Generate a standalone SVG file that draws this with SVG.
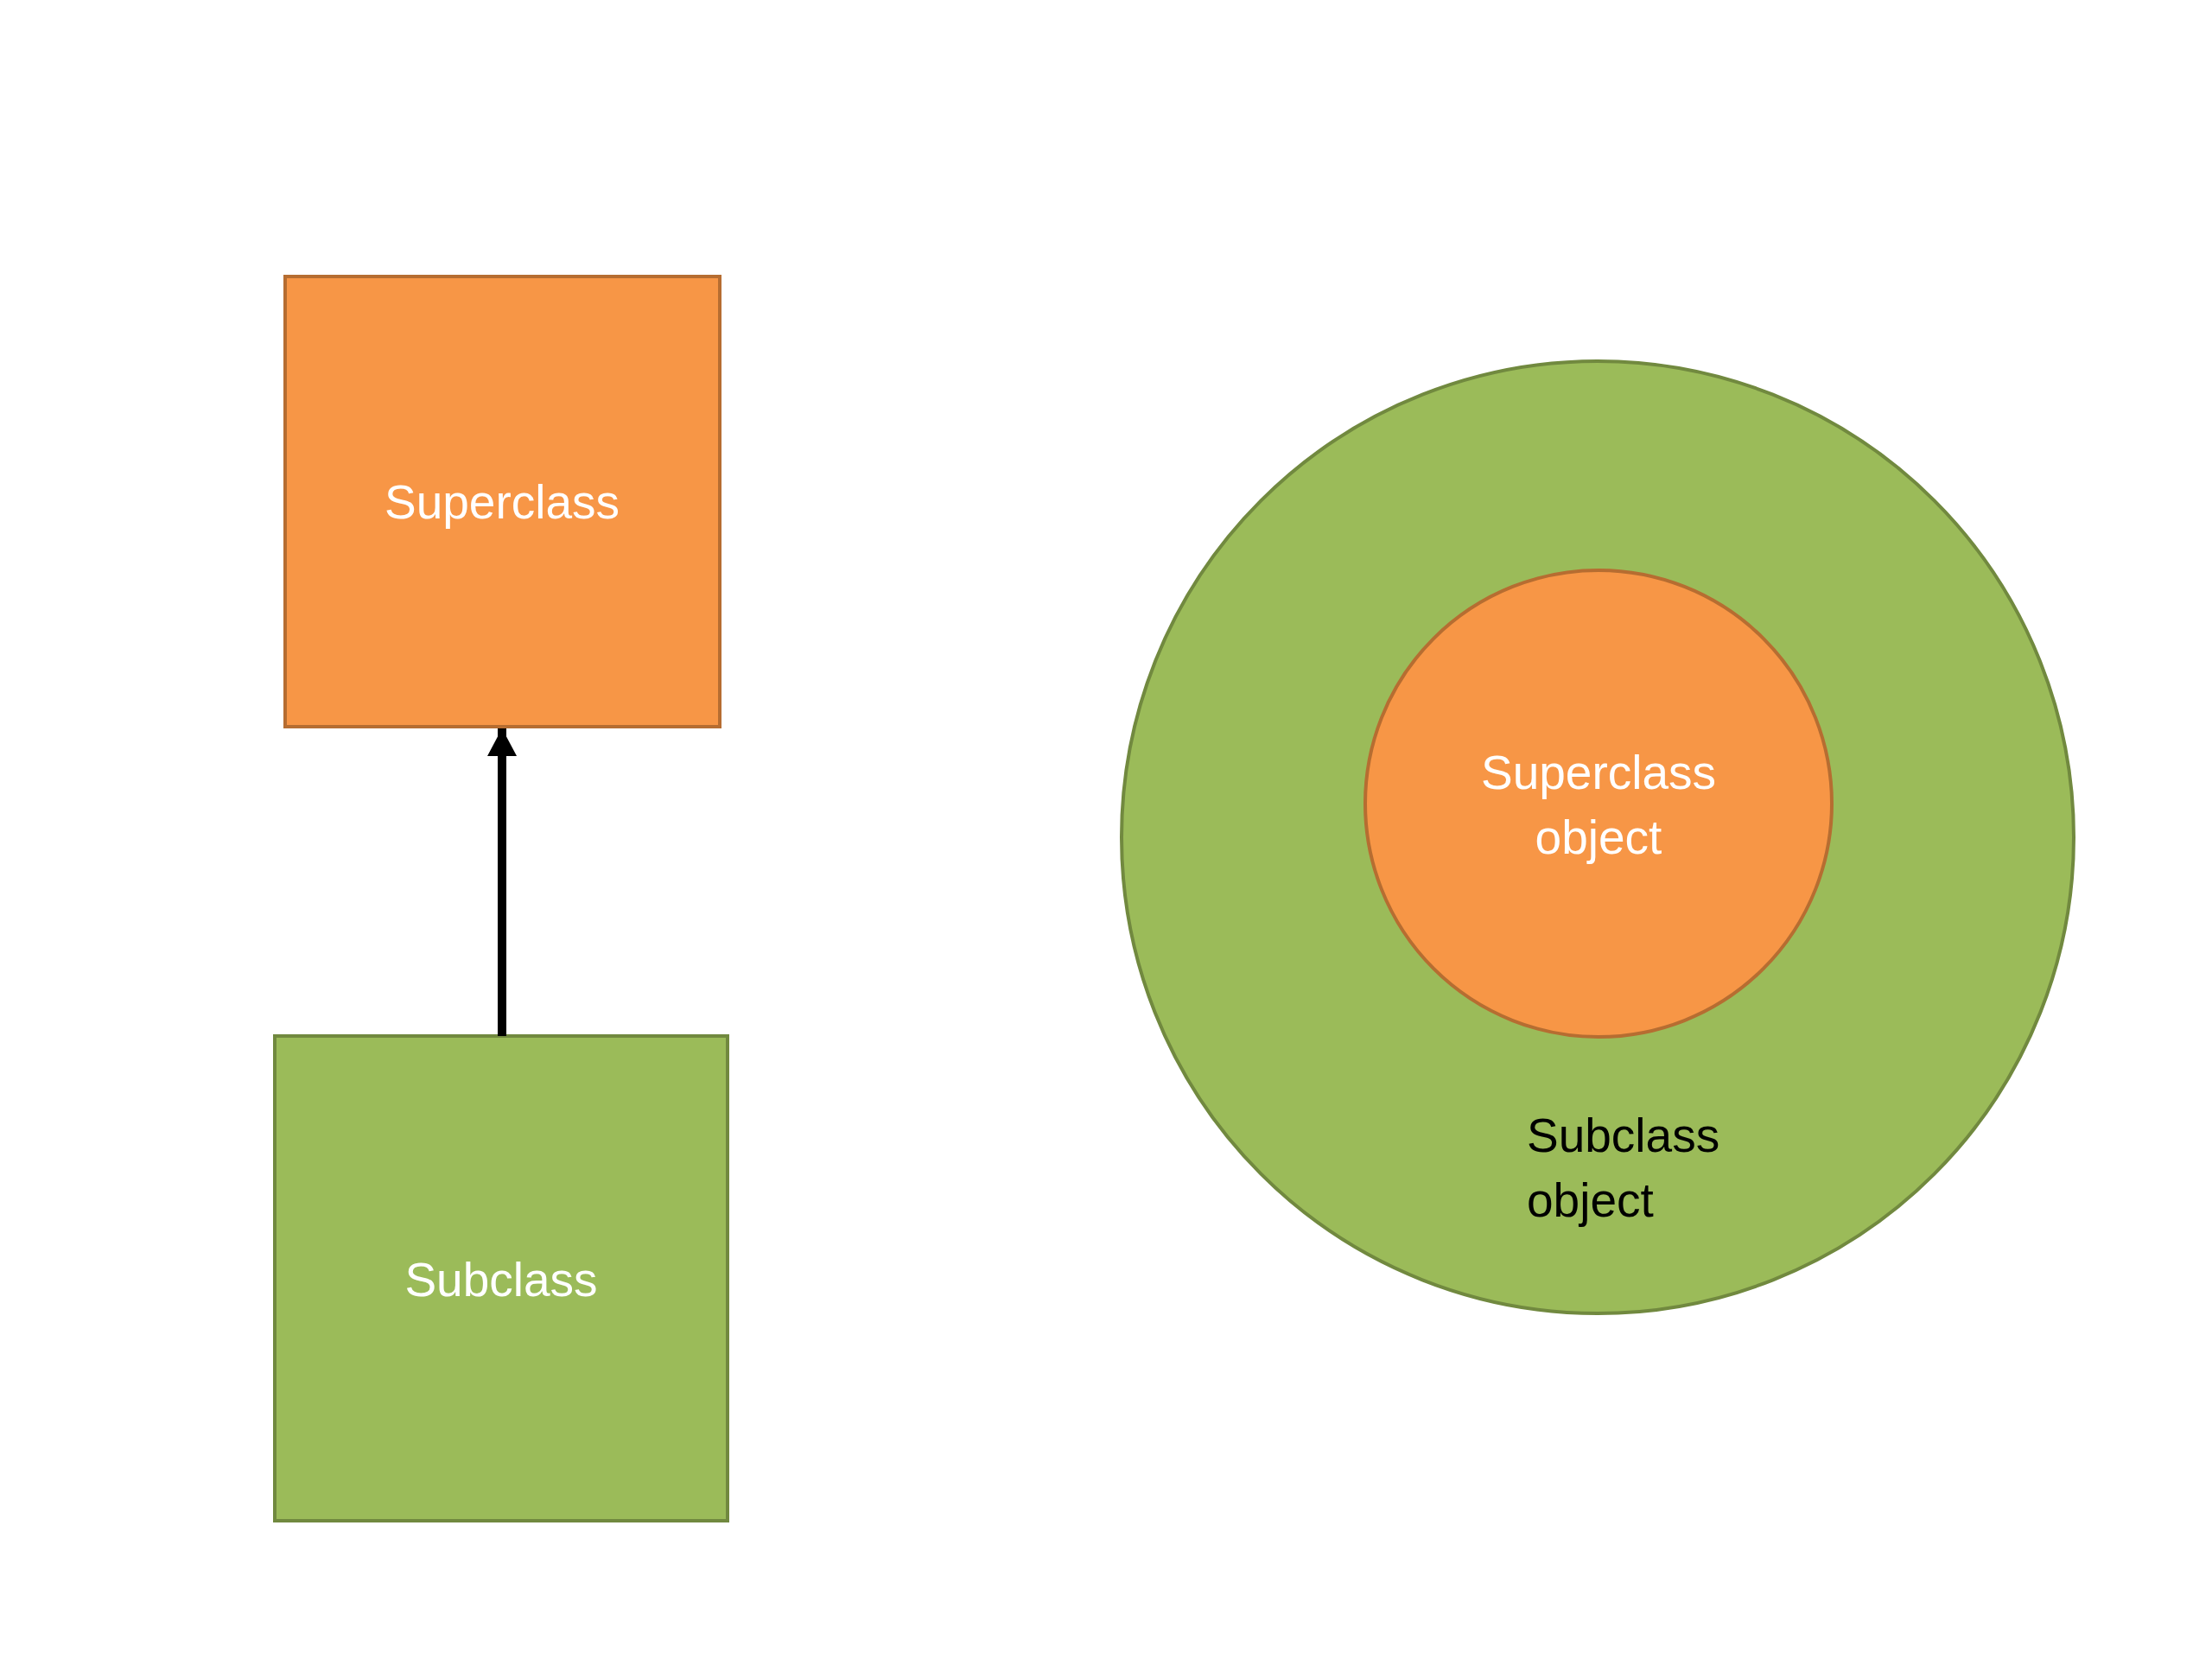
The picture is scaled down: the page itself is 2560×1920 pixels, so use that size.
<svg xmlns="http://www.w3.org/2000/svg" width="2560" height="1920" viewBox="0 0 2560 1920">
<style>
.orange{fill:#F79646;stroke:#B66D31;stroke-width:4}
.green{fill:#9BBB59;stroke:#71893F;stroke-width:4}
.lbl{font-family:"Liberation Sans",Arial,sans-serif;font-size:55px}
.w{fill:#FFFFFF;text-anchor:middle}
.k{fill:#000000}
</style>
<defs>
<marker id="ah" markerWidth="34" markerHeight="34" viewBox="0 0 34 34" refX="32" refY="17" orient="auto" markerUnits="userSpaceOnUse">
<path d="M0,0 L32,17 L0,34 Z" fill="#000"/>
</marker>
</defs>
<rect width="2560" height="1920" fill="#FFFFFF"/>
<g id="superclass">
<rect class="orange" x="330" y="320" width="503" height="521"/>
<text class="lbl w" x="581" y="600">Superclass</text>
</g>
<g id="subclass">
<rect class="green" x="318" y="1199" width="524" height="561"/>
<text class="lbl w" x="580" y="1500">Subclass</text>
</g>
<g id="connectors">
<line x1="581" y1="1199" x2="581" y2="843" stroke="#000" stroke-width="10" marker-end="url(#ah)"/>
</g>
<g id="subclass-object">
<circle class="green" cx="1849" cy="969" r="551"/>
<text class="lbl k" x="1767" y="1333">Subclass</text>
<text class="lbl k" x="1767" y="1408">object</text>
</g>
<g id="superclass-object">
<circle class="orange" cx="1850" cy="930" r="270"/>
<text class="lbl w" x="1850" y="913">Superclass</text>
<text class="lbl w" x="1850" y="988">object</text>
</g>
</svg>
